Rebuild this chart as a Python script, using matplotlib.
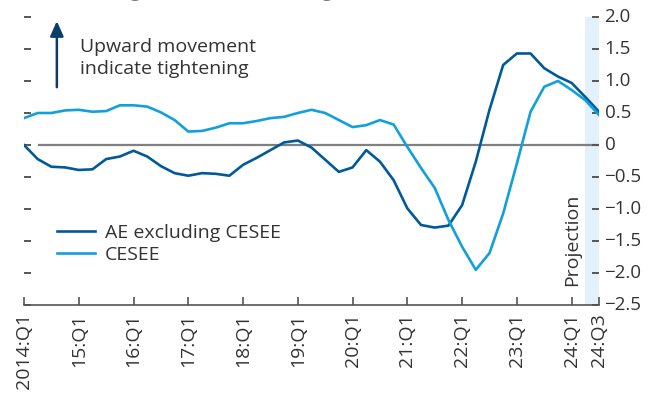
import matplotlib
matplotlib.use("Agg")
import matplotlib.pyplot as plt
import numpy as np

plt.rcParams['font.family'] = ['Open Sans', 'DejaVu Sans']

quarters = np.arange(43)  # 2014:Q1 .. 2024:Q3
ae_excl_cesee = [0.00, -0.22, -0.34, -0.35, -0.39, -0.38, -0.22, -0.18, -0.09, -0.18,
                 -0.33, -0.44, -0.48, -0.44, -0.45, -0.48, -0.31, -0.20, -0.08, 0.04,
                 0.07, -0.04, -0.23, -0.42, -0.35, -0.08, -0.26, -0.55, -0.99, -1.25,
                 -1.29, -1.26, -0.94, -0.26, 0.55, 1.25, 1.43, 1.43, 1.20, 1.07,
                 0.97, 0.75, 0.52]
cesee = [0.42, 0.50, 0.50, 0.54, 0.55, 0.52, 0.53, 0.62, 0.62, 0.60,
         0.51, 0.39, 0.21, 0.22, 0.27, 0.34, 0.34, 0.375, 0.42, 0.44,
         0.50, 0.55, 0.50, 0.39, 0.28, 0.31, 0.39, 0.32, -0.03, -0.36,
         -0.67, -1.17, -1.59, -1.95, -1.69, -1.07, -0.29, 0.52, 0.91, 1.00,
         0.86, 0.70, 0.47]
tick_pos = [0, 4, 8, 12, 16, 20, 24, 28, 32, 36, 40, 42]
tick_labels = ["2014:Q1", "15:Q1", "16:Q1", "17:Q1", "18:Q1", "19:Q1", "20:Q1",
               "21:Q1", "22:Q1", "23:Q1", "24:Q1", "24:Q3"]
y_ticks = [2.0, 1.5, 1.0, 0.5, 0, -0.5, -1.0, -1.5, -2.0, -2.5]
y_labels = ["2.0", "1.5", "1.0", "0.5", "0", "\u22120.5", "\u22121.0", "\u22121.5", "\u22122.0", "\u22122.5"]

dark = '#005a9a'
light = '#139fda'
txt = '#333333'
axc = '#555555'
fs = 14

fig = plt.figure(figsize=(6.57, 4.05), dpi=100)
ax = fig.add_axes([24/657, 1 - 305/405, (599-24)/657, (305-17)/405])
ax.set_xlim(0, 42)
ax.set_ylim(-2.5, 2.0)

ax.axvspan(41, 42, color='#e2f1fa', lw=0, zorder=0)
ax.axhline(0, xmin=1.1/42, xmax=1, color='#808080', lw=1.6, zorder=1)

ax.plot(quarters, ae_excl_cesee, color=dark, lw=1.9, label='AE excluding CESEE', zorder=3,
        solid_joinstyle='round')
ax.plot(quarters, cesee, color=light, lw=1.9, label='CESEE', zorder=3, solid_joinstyle='round')

for s in ['top', 'left', 'right']:
    ax.spines[s].set_visible(False)
ax.spines['bottom'].set_color(axc)
ax.spines['bottom'].set_linewidth(1.2)

ax.set_xticks(tick_pos)
ax.set_xticklabels(tick_labels, rotation=90, fontsize=fs, color=txt)
ax.tick_params(axis='x', direction='in', length=6, width=1.2, color=axc, pad=6)

ax.set_yticks(y_ticks)
ax.set_yticklabels(y_labels, fontsize=13.5, color=txt, va='center')
ax.tick_params(axis='y', direction='in', length=5, width=1.4, color=axc,
               left=True, right=True, labelleft=False, labelright=True, pad=4)

leg = ax.legend(loc='lower left', bbox_to_anchor=(0.043, 0.115), frameon=False,
                fontsize=fs, handlelength=2.0, handletextpad=0.5, labelspacing=0.2,
                borderaxespad=0)
for t in leg.get_texts():
    t.set_color(txt)

ax.annotate('', xy=(2.4, 1.98), xytext=(2.4, 0.86),
            arrowprops=dict(arrowstyle='-|>,head_length=0.9,head_width=0.4',
                            color='#0c3c68', lw=1.8))
ax.text(4.1, 1.36, 'Upward movement\nindicate tightening', fontsize=fs, color=txt,
        va='center', ha='left', linespacing=1.3)

ax.text(40.05, -2.2, 'Projection', rotation=90, fontsize=fs, color=txt,
        ha='center', va='bottom')

fig.text(28/657, 1 + 3/405, '(Index) change in the credit standing)',
         fontsize=13, color='#777777', ha='left', va='baseline')

fig.savefig('out.png', dpi=100)
